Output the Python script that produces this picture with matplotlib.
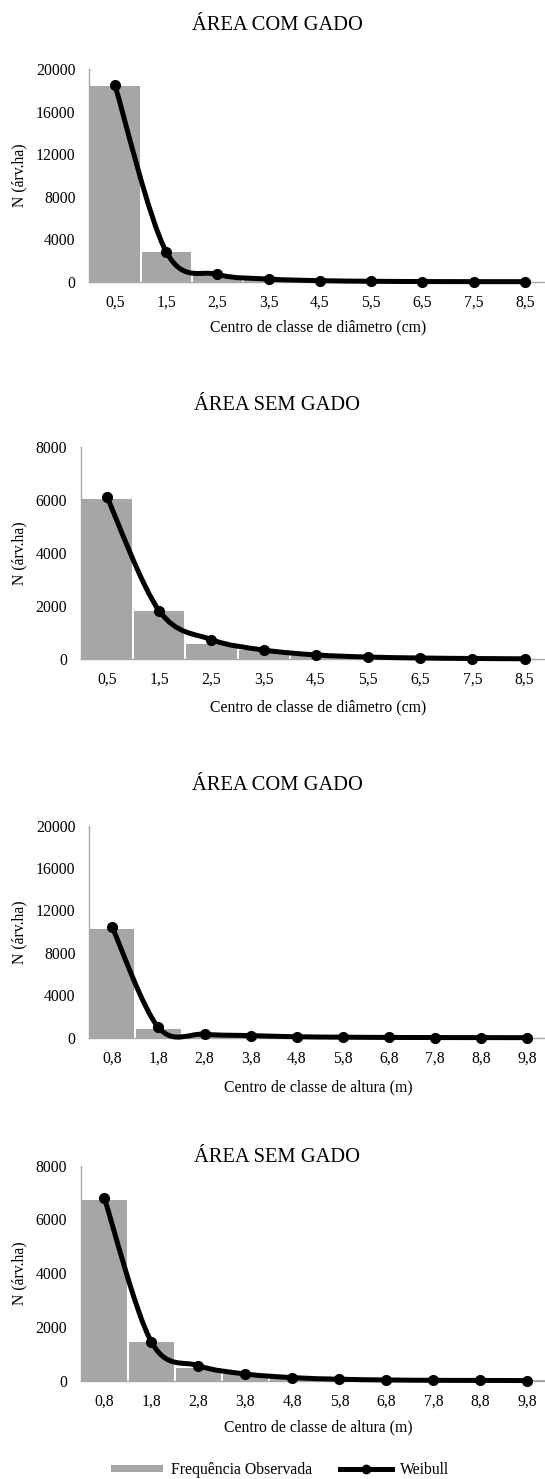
import matplotlib
matplotlib.use("Agg")
import matplotlib.pyplot as plt
from matplotlib.path import Path
from matplotlib.patches import PathPatch, Patch
from matplotlib.lines import Line2D
import numpy as np

plt.rcParams['font.family'] = ['Liberation Serif', 'DejaVu Serif']

# ---- data ----
diam_labels = ["0,5", "1,5", "2,5", "3,5", "4,5", "5,5", "6,5", "7,5", "8,5"]
alt_labels = ["0,8", "1,8", "2,8", "3,8", "4,8", "5,8", "6,8", "7,8", "8,8", "9,8"]

diam_com_obs = [18400, 2760, 560, 180, 80, 40, 20, 10, 5]
diam_com_weib = [18520, 2830, 690, 250, 100, 40, 15, 6, 2]

diam_sem_obs = [6050, 1820, 590, 350, 160, 80, 50, 30, 20]
diam_sem_weib = [6100, 1820, 740, 350, 165, 85, 50, 30, 20]

alt_com_obs = [10250, 820, 200, 100, 50, 30, 20, 10, 5, 5]
alt_com_weib = [10400, 970, 330, 200, 90, 50, 25, 15, 8, 5]

alt_sem_obs = [6720, 1430, 460, 250, 130, 70, 40, 25, 15, 10]
alt_sem_weib = [6780, 1440, 560, 250, 115, 55, 28, 15, 10, 5]

titles = ["ÁREA COM GADO", "ÁREA SEM GADO", "ÁREA COM GADO", "ÁREA SEM GADO"]
xlabels = ["Centro de classe de diâmetro (cm)", "Centro de classe de diâmetro (cm)",
           "Centro de classe de altura (m)", "Centro de classe de altura (m)"]
ylabel = "N (árv.ha)"
yticks_big = [0, 4000, 8000, 12000, 16000, 20000]
yticks_small = [0, 2000, 4000, 6000, 8000]

BAR_COLOR = "#A6A6A6"
SPINE_COLOR = "#A6A6A6"
FS = 11.3

W, H = 545, 1479
fig = plt.figure(figsize=(W / 100, H / 100), dpi=100)


def px_axes(left, right, top, bottom):
    return fig.add_axes([left / W, 1 - bottom / H, (right - left) / W, (bottom - top) / H])


def smooth_path(xs, ys):
    pts = np.column_stack([xs, ys]).astype(float)
    n = len(pts)
    verts = [pts[0]]
    codes = [Path.MOVETO]
    for i in range(n - 1):
        p0 = pts[i - 1] if i > 0 else pts[i]
        p1 = pts[i]
        p2 = pts[i + 1]
        p3 = pts[i + 2] if i + 2 < n else pts[i + 1]
        c1 = p1 + (p2 - p0) / 6.0
        c2 = p2 - (p3 - p1) / 6.0
        verts += [c1, c2, p2]
        codes += [Path.CURVE4] * 3
    return Path(verts, codes)


panels = [
    (diam_labels, diam_com_obs, diam_com_weib, yticks_big, (89.3, 550.4, 69.3, 281.7)),
    (diam_labels, diam_sem_obs, diam_sem_weib, yticks_small, (81.0, 550.7, 446.7, 659.3)),
    (alt_labels, alt_com_obs, alt_com_weib, yticks_big, (89.3, 550.1, 825.7, 1037.7)),
    (alt_labels, alt_sem_obs, alt_sem_weib, yticks_small, (81.0, 550.8, 1165.7, 1380.7)),
]
title_y = [26, 405, 785, 1158]
xlabel_y = [327, 707, 1087, 1427]

for k, (labels, obs, weib, yt, box) in enumerate(panels):
    ax = px_axes(*box)
    x = np.arange(len(labels))
    ax.bar(x, obs, width=0.96, color=BAR_COLOR, zorder=1)
    path = smooth_path(x, weib)
    patch = PathPatch(path, facecolor="none", edgecolor="black", lw=3.6,
                      capstyle="round", joinstyle="round", zorder=3, clip_on=False)
    ax.add_patch(patch)
    ax.plot(x, weib, "o", color="black", ms=7, zorder=4, clip_on=False)
    ax.set_xlim(-0.5, len(labels) - 0.5)
    ax.set_ylim(0, yt[-1])
    ax.set_yticks(yt)
    ax.set_yticklabels([str(v) for v in yt], fontsize=FS)
    ax.set_xticks(x)
    ax.set_xticklabels(labels, fontsize=FS)
    ax.tick_params(axis="both", length=0)
    ax.tick_params(axis="y", pad=10)
    ax.tick_params(axis="x", pad=9)
    for s in ["top", "right"]:
        ax.spines[s].set_visible(False)
    for s in ["left", "bottom"]:
        ax.spines[s].set_color(SPINE_COLOR)
        ax.spines[s].set_linewidth(1.0)
    ax.set_facecolor("none")
    # axis labels
    fig.text(19 / W, 1 - ((box[2] + box[3]) / 2) / H, ylabel, rotation=90,
             ha="center", va="center", fontsize=FS)
    fig.text(318 / W, 1 - xlabel_y[k] / H, xlabels[k], ha="center", va="center", fontsize=FS)
    fig.text(277 / W, 1 - title_y[k] / H, titles[k], ha="center", va="center", fontsize=14.8)

handles = [Patch(facecolor=BAR_COLOR, edgecolor="none"),
           Line2D([], [], color="black", lw=3.6, marker="o", ms=6)]
fig.legend(handles, ["Frequência Observada", "Weibull"], loc="center",
           bbox_to_anchor=(280 / W, 1 - 1470 / H), ncol=2, frameon=False,
           fontsize=FS, handlelength=3.3, handleheight=0.35, columnspacing=1.8,
           handletextpad=0.5)

fig.savefig("out.png", dpi=100)
